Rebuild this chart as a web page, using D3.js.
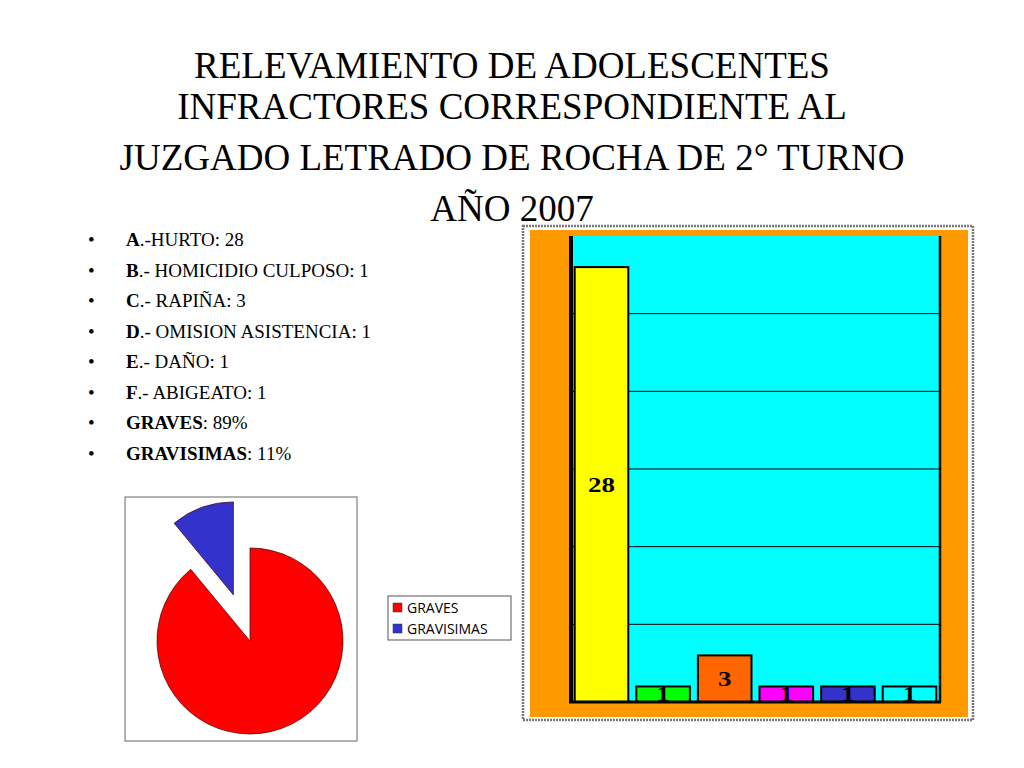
<!DOCTYPE html>
<html>
<head>
<meta charset="utf-8">
<script src="https://cdn.jsdelivr.net/npm/d3@7"></script>
<style>
  body { margin: 0; background: #fff; }
</style>
</head>
<body>
<div id="chart"></div>
<script>
const titleLines = [
  'RELEVAMIENTO DE ADOLESCENTES',
  'INFRACTORES CORRESPONDIENTE AL',
  'JUZGADO LETRADO DE ROCHA DE 2° TURNO',
  'AÑO 2007',
]

const bulletKeys = ['A', 'B', 'C', 'D', 'E', 'F', 'GRAVES', 'GRAVISIMAS']
const bulletRest = ['.-HURTO:  28', '.- HOMICIDIO CULPOSO: 1', '.- RAPIÑA: 3', '.- OMISION ASISTENCIA: 1',
  '.- DAÑO: 1', '.- ABIGEATO: 1', ': 89%', ': 11%']

const barCategories = ['A', 'B', 'C', 'D', 'E', 'F']
const barValues = [28, 1, 3, 1, 1, 1]
const barColors = ['#ffff00', '#00ff00', '#ff6600', '#ff00ff', '#3333cc', '#00ffff']
const gridTicks = [5, 10, 15, 20, 25]

const pieLabels = ['GRAVES', 'GRAVISIMAS']
const pieValues = [89, 11]
const pieColors = ['#ff0000', '#3333cc']

const svg = d3.select('#chart').append('svg').attr('width', 1024).attr('height', 768)

// title
svg.append('g')
  .selectAll('text')
  .data(titleLines)
  .join('text')
  .attr('x', 512)
  .attr('y', (d, i) => [78, 119, 170, 221][i])
  .attr('text-anchor', 'middle')
  .attr('font-family', 'Liberation Serif')
  .attr('font-size', 37)
  .text(d => d)

// bullet list
const list = svg.append('g')
bulletKeys.forEach((k, i) => {
  const y = 246 + i * 30.5
  list.append('text').attr('x', 88).attr('y', y).attr('font-family', 'Liberation Serif')
    .attr('font-size', 19).text('•')
  const t = list.append('text').attr('x', 126).attr('y', y)
    .attr('font-family', 'Liberation Serif').attr('font-size', 19)
  t.append('tspan').attr('font-weight', 'bold').text(k)
  t.append('tspan').text(bulletRest[i])
})

// bar chart
svg.append('rect').attr('x', 523).attr('y', 226).attr('width', 450).attr('height', 494)
  .attr('fill', 'none').attr('stroke', '#777').attr('stroke-width', 2.5).attr('stroke-dasharray', '2 1')
svg.append('rect').attr('x', 530).attr('y', 230).attr('width', 438).attr('height', 487).attr('fill', '#ff9900')

const plot = { left: 571, right: 940, top: 236, bottom: 702 }
const x = d3.scaleBand().domain(barCategories).range([plot.left, plot.right]).paddingInner(0.13).paddingOuter(0.06)
const y = d3.scaleLinear().domain([0, 30]).range([plot.bottom, plot.top])

svg.append('rect').attr('x', plot.left).attr('y', plot.top)
  .attr('width', plot.right - plot.left).attr('height', plot.bottom - plot.top).attr('fill', '#00ffff')

svg.append('g')
  .selectAll('line')
  .data(gridTicks)
  .join('line')
  .attr('x1', plot.left).attr('x2', plot.right)
  .attr('y1', d => y(d)).attr('y2', d => y(d))
  .attr('stroke', '#000').attr('stroke-width', 1)

svg.append('g')
  .selectAll('rect')
  .data(barValues)
  .join('rect')
  .attr('x', (d, i) => x(barCategories[i]))
  .attr('y', d => y(d))
  .attr('width', x.bandwidth())
  .attr('height', d => y(0) - y(d))
  .attr('fill', (d, i) => barColors[i])
  .attr('stroke', '#000').attr('stroke-width', 2)

svg.append('g')
  .selectAll('text')
  .data(barValues)
  .join('text')
  .attr('x', (d, i) => x(barCategories[i]) + x.bandwidth() / 2)
  .attr('y', d => (y(d) + y(0)) / 2 + 7)
  .attr('text-anchor', 'middle')
  .attr('font-family', 'Liberation Serif')
  .attr('font-weight', 'bold')
  .attr('font-size', 20)
  .attr('transform', (d, i) => {
    const cx = x(barCategories[i]) + x.bandwidth() / 2
    return `translate(${cx} 0) scale(1.35 1) translate(${-cx} 0)`
  })
  .text(d => d)

// axes frame
svg.append('line').attr('x1', plot.left).attr('x2', plot.left).attr('y1', plot.top).attr('y2', plot.bottom)
  .attr('stroke', '#000').attr('stroke-width', 4)
svg.append('line').attr('x1', plot.left - 2).attr('x2', plot.right + 1).attr('y1', plot.bottom).attr('y2', plot.bottom)
  .attr('stroke', '#000').attr('stroke-width', 3)
svg.append('line').attr('x1', plot.right).attr('x2', plot.right).attr('y1', plot.top).attr('y2', plot.bottom)
  .attr('stroke', '#000').attr('stroke-width', 2.5)

// pie chart
svg.append('rect').attr('x', 125).attr('y', 497).attr('width', 232).attr('height', 244)
  .attr('fill', '#fff').attr('stroke', '#666').attr('stroke-width', 1)

const pie = d3.pie().sort(null)(pieValues)
const arc = d3.arc().innerRadius(0).outerRadius(93)
const pieG = svg.append('g').attr('transform', 'translate(250 641)')
pieG.selectAll('path')
  .data(pie)
  .join('path')
  .attr('d', arc)
  .attr('transform', (d, i) => {
    if (i === 0) return null
    const a = (d.startAngle + d.endAngle) / 2
    return `translate(${Math.sin(a) * 49} ${-Math.cos(a) * 49})`
  })
  .attr('fill', (d, i) => pieColors[i])
  .attr('stroke', '#400').attr('stroke-width', 0.7)

const legend = svg.append('g')
legend.append('rect').attr('x', 388).attr('y', 596).attr('width', 123).attr('height', 44)
  .attr('fill', '#fff').attr('stroke', '#555').attr('stroke-width', 1)
pieLabels.forEach((l, i) => {
  legend.append('rect').attr('x', 393).attr('y', 603 + i * 21).attr('width', 9).attr('height', 9)
    .attr('fill', pieColors[i]).attr('stroke', '#333').attr('stroke-width', 0.5)
  legend.append('text').attr('x', 407).attr('y', 613 + i * 21)
    .attr('font-family', 'Open Sans').attr('font-size', 14).text(l)
})
</script>
</body>
</html>
